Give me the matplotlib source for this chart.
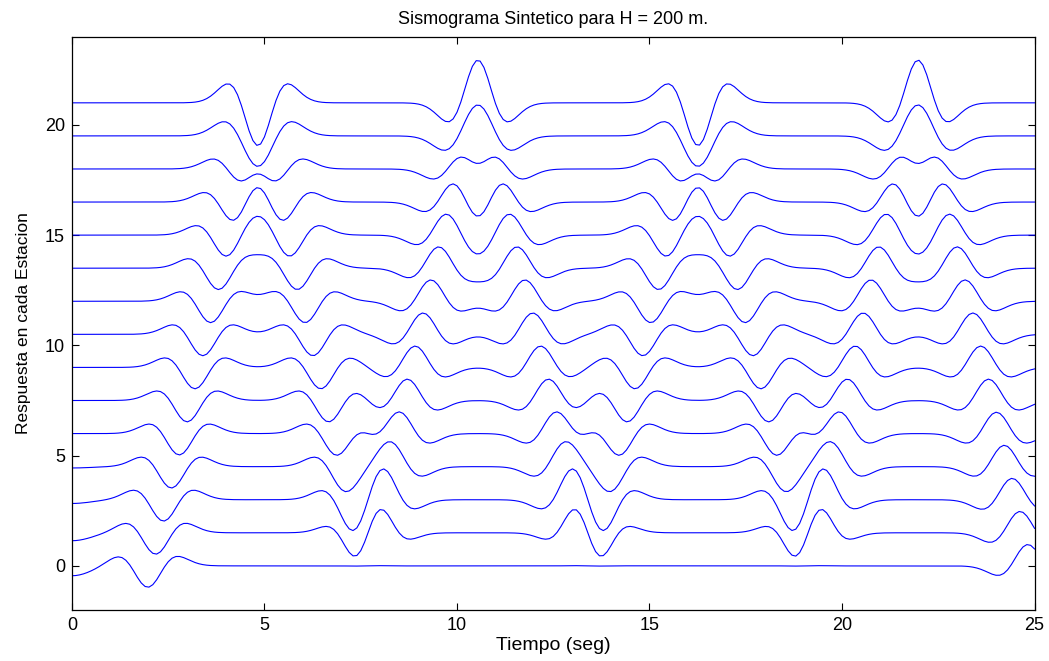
import numpy as np
import matplotlib
matplotlib.use("Agg")
import matplotlib.pyplot as plt

plt.rcParams['font.family'] = ['Liberation Sans', 'DejaVu Sans']

# stations from the base (0) up to the surface (14), plotted 1.5 apart
n_stations = 15
trace_spacing = 1.5
travel_time = 2.857          # base -> surface, seconds
freq = 0.5                   # Ricker peak frequency, Hz
amp = 0.97

# upgoing waves: time leaving the base and polarity
up_times = [1.97, 7.69, 13.40, 19.12]
up_signs = [-1, 1, -1, 1]
# downgoing waves: time leaving the surface and polarity
down_times = [4.83, 10.54, 16.26, 21.97]
down_signs = [-1, 1, -1, 1]

# slow negative tail at the start of the lowest traces
tail_amp = [-0.45, -0.36, -0.17, -0.06]


def ricker(tau, f):
    a = (np.pi * f * tau) ** 2
    return (1 - 2 * a) * np.exp(-a)


t = np.arange(0, 25.0001, 0.1)
dz = travel_time / (n_stations - 1)

fig = plt.figure(figsize=(10.49, 6.61), dpi=100)
ax = fig.add_axes([0.0686, 0.0772, 0.9176, 0.8673])

for k in range(n_stations):
    y = np.zeros_like(t)
    for t0, s in zip(up_times, up_signs):
        y += s * amp * ricker(t - (t0 + k * dz), freq)
    for t0, s in zip(down_times, down_signs):
        y += s * amp * ricker(t - (t0 + (n_stations - 1 - k) * dz), freq)
    if k < len(tail_amp):
        y += tail_amp[k] * np.exp(-(t / 0.7) ** 2)
    ax.plot(t, y + k * trace_spacing, color=(0, 0, 1), lw=0.8)

ax.set_xlim(0, 25)
ax.set_ylim(-2, 24)
ax.set_xticks([0, 5, 10, 15, 20, 25])
ax.set_yticks([0, 5, 10, 15, 20])
ax.tick_params(direction="in", top=True, right=True, labelsize=13, length=5, pad=5)
for sp in ax.spines.values():
    sp.set_linewidth(0.9)
ax.set_title("Sismograma Sintetico para H = 200 m.", fontsize=13, pad=9)
ax.set_xlabel("Tiempo (seg)", fontsize=14, labelpad=2)
ax.set_ylabel("Respuesta en cada Estacion", fontsize=12.5, labelpad=10)

fig.savefig("out.png", dpi=100)
